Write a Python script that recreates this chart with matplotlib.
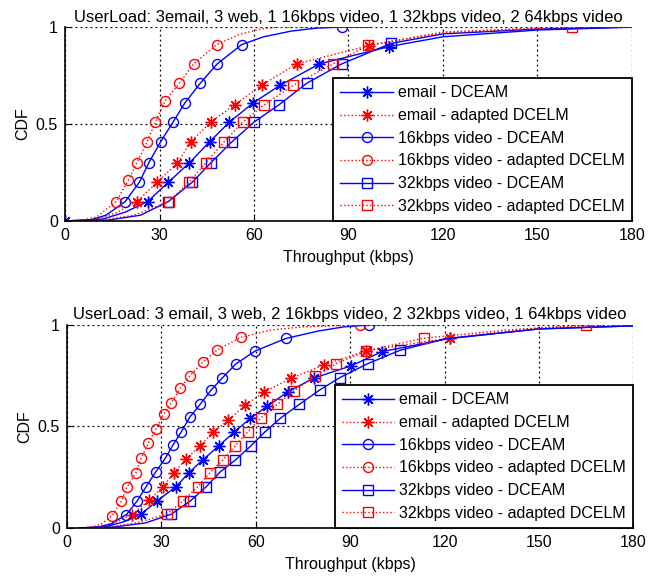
import matplotlib
matplotlib.use("Agg")
import matplotlib.pyplot as plt

plt.rcParams["font.family"] = ["Liberation Sans", "DejaVu Sans"]
plt.rcParams["font.size"] = 11.5

# top panel: 3 email, 3 web, 1x16k, 1x32k, 2x64k video
t_email_dceam_x = [0, 12, 19, 26.2, 32.8, 39.5, 46.0, 52.2, 59.8, 68.3, 80.7, 103, 120, 150, 180]
t_email_dceam_y = [0, 0.01, 0.045, 0.10, 0.20, 0.30, 0.41, 0.51, 0.61, 0.70, 0.81, 0.90, 0.95, 0.985, 1.0]
t_email_dceam_mk = [0, 3, 4, 5, 6, 7, 8, 9, 10, 11]

t_email_adapt_x = [0, 10, 16, 22.8, 29.3, 35.7, 40.0, 46.3, 53.9, 62.4, 73.5, 96.6, 120, 150, 180]
t_email_adapt_y = [0, 0.01, 0.04, 0.10, 0.20, 0.30, 0.41, 0.51, 0.60, 0.70, 0.81, 0.905, 0.975, 0.995, 1.0]
t_email_adapt_mk = [3, 4, 5, 6, 7, 8, 9, 10, 11]

t_v16_dceam_x = [0, 8, 13, 19.1, 23.6, 26.6, 30.4, 34.3, 38.1, 42.9, 48.3, 56.1, 63, 72, 80, 87.8, 97]
t_v16_dceam_y = [0, 0.005, 0.03, 0.10, 0.20, 0.30, 0.41, 0.51, 0.61, 0.71, 0.81, 0.91, 0.95, 0.98, 0.995, 1.0, 1.0]
t_v16_dceam_mk = [3, 4, 5, 6, 7, 8, 9, 10, 11, 15]

t_v16_adapt_x = [0, 5, 10, 16.2, 20.1, 22.8, 26.1, 28.7, 31.8, 36.3, 40.8, 48.2, 55, 62, 68, 97]
t_v16_adapt_y = [0, 0.003, 0.02, 0.10, 0.21, 0.30, 0.41, 0.51, 0.62, 0.71, 0.81, 0.91, 0.96, 0.99, 1.0, 1.0]
t_v16_adapt_mk = [3, 4, 5, 6, 7, 8, 9, 10, 11]

t_v32_dceam_x = [0, 14, 24, 32.8, 40.4, 46.3, 53.1, 60.0, 68.0, 76.7, 87.8, 103.5, 120, 150, 180]
t_v32_dceam_y = [0, 0.005, 0.03, 0.10, 0.20, 0.30, 0.41, 0.51, 0.60, 0.71, 0.81, 0.916, 0.965, 0.99, 1.0]
t_v32_dceam_mk = [3, 4, 5, 6, 7, 8, 9, 10, 11]

t_v32_adapt_x = [0, 12, 22, 32.9, 39.4, 44.7, 50.6, 56.4, 63.3, 72.5, 85.1, 96.3, 120, 161, 180]
t_v32_adapt_y = [0, 0.005, 0.03, 0.10, 0.20, 0.30, 0.41, 0.51, 0.60, 0.70, 0.81, 0.907, 0.97, 1.0, 1.0]
t_v32_adapt_mk = [3, 4, 5, 6, 7, 8, 9, 10, 11, 13]

# bottom panel: 3 email, 3 web, 2x16k, 2x32k, 1x64k video
b_email_dceam_x = [4, 12, 18, 23.6, 28.6, 34.6, 38.8, 43.1, 48.3, 53.0, 58.3, 63.6, 70.1, 78.6, 90.3, 100.1, 121.8, 150, 180]
b_email_dceam_y = [0, 0.005, 0.03, 0.068, 0.133, 0.202, 0.273, 0.334, 0.405, 0.47, 0.54, 0.599, 0.669, 0.739, 0.798, 0.868, 0.934, 0.98, 0.995]
b_email_dceam_mk = list(range(3, 17))

b_email_adapt_x = [4, 10, 15, 20.7, 26.2, 30.5, 34.0, 37.8, 42.4, 46.4, 51.3, 56.7, 62.5, 71.3, 81.6, 95.1, 121.8, 150, 180]
b_email_adapt_y = [0, 0.005, 0.025, 0.066, 0.137, 0.202, 0.273, 0.339, 0.405, 0.471, 0.531, 0.604, 0.669, 0.737, 0.803, 0.872, 0.936, 0.985, 1.0]
b_email_adapt_mk = list(range(3, 17))

b_v16_dceam_x = [4, 10, 14, 18.9, 22.3, 25.1, 28.2, 31.2, 33.6, 36.3, 39.0, 42.4, 45.8, 49.4, 53.7, 59.9, 69.6, 80, 88, 96.1, 117]
b_v16_dceam_y = [0, 0.005, 0.02, 0.066, 0.133, 0.202, 0.276, 0.342, 0.406, 0.472, 0.545, 0.610, 0.679, 0.739, 0.808, 0.872, 0.933, 0.97, 0.99, 1.0, 1.0]
b_v16_dceam_mk = list(range(3, 17)) + [19]

b_v16_adapt_x = [4, 8, 11, 14.4, 17.3, 19.1, 21.9, 23.6, 25.9, 28.2, 30.7, 33.2, 36.0, 39.0, 43.1, 47.8, 55.4, 65, 75, 93, 97]
b_v16_adapt_y = [0, 0.005, 0.02, 0.061, 0.133, 0.202, 0.271, 0.345, 0.419, 0.485, 0.559, 0.617, 0.688, 0.748, 0.816, 0.877, 0.939, 0.975, 0.99, 1.0, 1.0]
b_v16_adapt_mk = list(range(3, 17)) + [19]

b_v32_dceam_x = [4, 15, 25, 33.2, 39.2, 44.2, 48.7, 53.5, 58.5, 63.0, 67.8, 73.9, 80.3, 86.7, 95.6, 105.9, 120, 150, 180]
b_v32_dceam_y = [0, 0.005, 0.025, 0.068, 0.133, 0.202, 0.276, 0.334, 0.405, 0.474, 0.540, 0.609, 0.679, 0.740, 0.809, 0.875, 0.93, 0.98, 0.995]
b_v32_dceam_mk = list(range(3, 16))

b_v32_adapt_x = [4, 14, 22, 31.8, 36.9, 41.5, 45.5, 49.5, 53.5, 57.5, 61.7, 66.9, 72.3, 78.7, 85.5, 95.1, 113.4, 140, 165.1, 180]
b_v32_adapt_y = [0, 0.005, 0.025, 0.068, 0.133, 0.202, 0.273, 0.334, 0.405, 0.474, 0.543, 0.609, 0.676, 0.747, 0.809, 0.872, 0.934, 0.975, 1.0, 1.0]
b_v32_adapt_mk = list(range(3, 17)) + [18]

labels = ["email - DCEAM", "email - adapted DCELM",
          "16kbps video - DCEAM", "16kbps video - adapted DCELM",
          "32kbps video - DCEAM", "32kbps video - adapted DCELM"]
x_ticks = [0, 30, 60, 90, 120, 150, 180]
y_ticks = [0, 0.5, 1]

star = (8, 2, 0)
styles = [("blue", "-", star, 8.5), ("red", ":", star, 8.5),
          ("blue", "-", "o", 7.2), ("red", ":", "o", 7.2),
          ("blue", "-", "s", 6.5), ("red", ":", "s", 6.5)]


def draw(ax, curves, title):
    for (x, y, mk), (c, ls, m, ms), lab in zip(curves, styles, labels):
        ax.plot(x, y, color=c, linestyle=ls, linewidth=1, marker=m, markersize=ms,
                markerfacecolor="none", markeredgecolor=c, markeredgewidth=1,
                markevery=mk, label=lab)
    ax.set_xlim(0, 180)
    ax.set_ylim(0, 1)
    ax.set_xticks(x_ticks)
    ax.set_yticks(y_ticks)
    ax.set_yticklabels(["0", "0.5", "1"])
    ax.grid(True, color="black", linestyle=(0, (1.5, 2.5)), linewidth=0.9)
    ax.tick_params(direction="in", length=4, color="black", labelsize=11.5, pad=5)
    for s in ["top", "right"]:
        ax.spines[s].set_visible(False)
    for s in ["left", "bottom"]:
        ax.spines[s].set_linewidth(1.2)
    ax.set_title(title, fontsize=12, pad=4)
    ax.set_xlabel("Throughput (kbps)", labelpad=5)
    ax.set_ylabel("CDF", labelpad=4)
    leg = ax.legend(loc="lower right", borderaxespad=0, fancybox=False,
                    edgecolor="black", framealpha=1, handlelength=3.3,
                    handletextpad=0.3, labelspacing=0.48, borderpad=0.45,
                    fontsize=11.5)
    leg.get_frame().set_linewidth(1.3)


fig = plt.figure(figsize=(6.6, 5.77), dpi=100)
ax1 = fig.add_axes([0.0985, 0.617, 0.859, 0.336])
ax2 = fig.add_axes([0.1015, 0.085, 0.858, 0.352])

draw(ax1, [(t_email_dceam_x, t_email_dceam_y, t_email_dceam_mk),
           (t_email_adapt_x, t_email_adapt_y, t_email_adapt_mk),
           (t_v16_dceam_x, t_v16_dceam_y, t_v16_dceam_mk),
           (t_v16_adapt_x, t_v16_adapt_y, t_v16_adapt_mk),
           (t_v32_dceam_x, t_v32_dceam_y, t_v32_dceam_mk),
           (t_v32_adapt_x, t_v32_adapt_y, t_v32_adapt_mk)],
     "UserLoad: 3email, 3 web, 1 16kbps video, 1 32kbps video, 2 64kbps video")

draw(ax2, [(b_email_dceam_x, b_email_dceam_y, b_email_dceam_mk),
           (b_email_adapt_x, b_email_adapt_y, b_email_adapt_mk),
           (b_v16_dceam_x, b_v16_dceam_y, b_v16_dceam_mk),
           (b_v16_adapt_x, b_v16_adapt_y, b_v16_adapt_mk),
           (b_v32_dceam_x, b_v32_dceam_y, b_v32_dceam_mk),
           (b_v32_adapt_x, b_v32_adapt_y, b_v32_adapt_mk)],
     "UserLoad: 3 email, 3 web, 2 16kbps video, 2 32kbps video, 1 64kbps video")

fig.savefig("out.png", dpi=100)
